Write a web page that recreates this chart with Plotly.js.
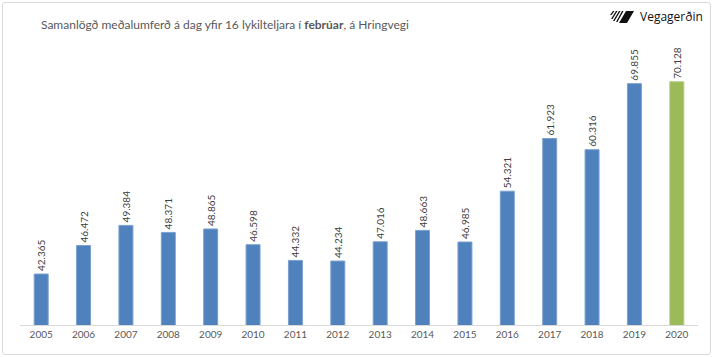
<!DOCTYPE html>
<html>
<head>
<meta charset="utf-8">
<script src="https://cdn.plot.ly/plotly-3.0.1.min.js"></script>
<style>
  html, body { margin: 0; padding: 0; background: #fff; }
  #wrap { position: relative; width: 713px; height: 357px; }
  #chart { width: 713px; height: 357px; }
  #frame { position: absolute; left: 2px; top: 2px; width: 707px; height: 351px;
           border: 1px solid #d9d9d9; border-radius: 3px; pointer-events: none; }
</style>
</head>
<body>
<div id="wrap"><div id="chart"></div><div id="frame"></div></div>
<script>
// Data
const years = ["2005","2006","2007","2008","2009","2010","2011","2012","2013","2014","2015","2016","2017","2018","2019","2020"];
const traffic = [42365, 46472, 49384, 48371, 48865, 46598, 44332, 44234, 47016, 48663, 46985, 54321, 61923, 60316, 69855, 70128];
const highlightYear = "2020";
const titleText = "Samanlögð meðalumferð á dag yfir 16 lykilteljara í <b>febrúar</b>, á Hringvegi";
const brandText = "Vegagerðin";

const colors = years.map(y => y === highlightYear ? "#9bbb59" : "#4f81bd");
const lineColors = years.map(y => y === highlightYear ? "#b3cc85" : "#7aa0d0");

// plot area geometry (pixels) for decoration placement
const W = 713, H = 357, mL = 20, mR = 15, mT = 48, mB = 32;
const pw = W - mL - mR, ph = H - mT - mB;
const px = x => (x - mL) / pw;
const py = y => (H - mB - y) / ph;

function poly(pts) {
  return "M" + pts.map(p => px(p[0]) + "," + py(p[1])).join(" L") + " Z";
}

const logoShapes = [
  {pts: [[613,11],[614.5,11],[611.5,15],[610,15]]},
  {pts: [[616,11],[617.5,11],[612.5,19],[611,19]]},
  {pts: [[619,11],[620.5,11],[614.5,21],[613,21]]},
  {pts: [[622,11],[623.5,11],[617.5,22],[616,22]]},
  {pts: [[626,11],[634,11],[627,23],[619,23]]}
].map(s => ({
  type: "path", xref: "paper", yref: "paper", path: poly(s.pts),
  fillcolor: "#111", line: {width: 0}
}));

const trace = {
  type: "bar",
  x: years,
  y: traffic,
  marker: {color: colors, line: {color: lineColors, width: 1}},
  texttemplate: "%{y:,}",
  textposition: "outside",
  textangle: -90,
  constraintext: "none",
  cliponaxis: false,
  textfont: {family: "Lato, 'Liberation Sans', sans-serif", size: 10, color: "#404040"},
  hoverinfo: "x+y"
};

const layout = {
  width: W, height: H,
  margin: {l: mL, r: mR, t: mT, b: mB},
  paper_bgcolor: "#fff", plot_bgcolor: "#fff",
  separators: ",.",
  bargap: 0.67,
  showlegend: false,
  font: {family: "Lato, 'Liberation Sans', sans-serif", color: "#595959"},
  title: {
    text: titleText,
    xref: "container", yref: "container",
    x: 225 / W, xanchor: "center",
    y: 1 - 25 / H, yanchor: "middle",
    font: {family: "Lato, 'Liberation Sans', sans-serif", size: 12, color: "#595959"}
  },
  xaxis: {
    type: "category",
    showline: true, linecolor: "#d9d9d9", linewidth: 1,
    showgrid: false, zeroline: false, ticks: "",
    tickfont: {size: 10, color: "#595959"},
    fixedrange: true
  },
  yaxis: {
    visible: false,
    range: [35000, 75000],
    showgrid: false, zeroline: false,
    fixedrange: true
  },
  shapes: logoShapes,
  annotations: [{
    text: brandText,
    xref: "paper", yref: "paper",
    x: px(638), y: py(17),
    xanchor: "left", yanchor: "middle",
    showarrow: false,
    font: {family: "'Open Sans', 'Liberation Sans', sans-serif", size: 12, color: "#111"}
  }]
};

Plotly.newPlot("chart", [trace], layout, {displayModeBar: false, staticPlot: true});
</script>
</body>
</html>
